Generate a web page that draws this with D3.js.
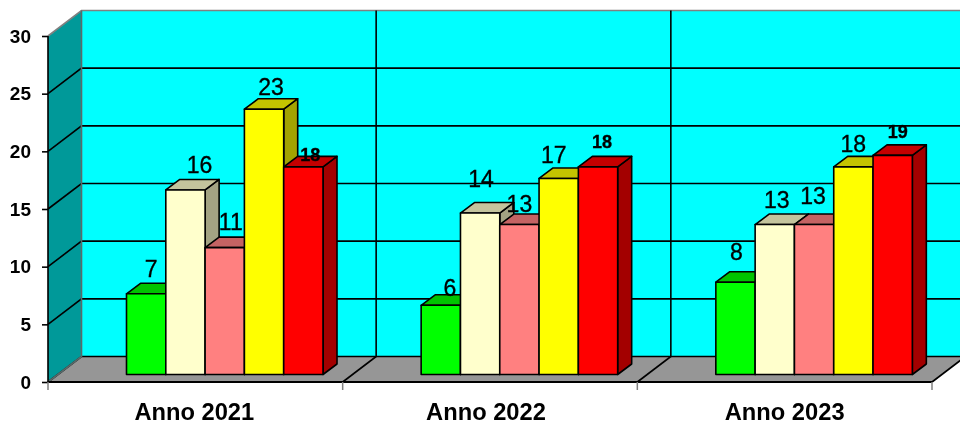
<!DOCTYPE html>
<html>
<head>
<meta charset="utf-8">
<script src="https://cdn.jsdelivr.net/npm/d3@7"></script>
<style>
    html, body { margin: 0; padding: 0; background: #fff; overflow: hidden; }
    svg { display: block; }
    text { font-family: "Liberation Sans", Arial, sans-serif; fill: #000; }
</style>
</head>
<body>
<div id="chart"></div>
<script>
// Datos
const anni = ["Anno 2021", "Anno 2022", "Anno 2023"];
const serie = ["s1", "s2", "s3", "s4", "s5"];
const coloriSerie = ["#00ff00", "#ffffcc", "#ff8080", "#ffff00", "#ff0000"];
const valori2021 = [7, 16, 11, 23, 18];
const valori2022 = [6, 14, 13, 17, 18];
const valori2023 = [8, 13, 13, 18, 19];
const valori = [valori2021, valori2022, valori2023];
const tickValori = [0, 5, 10, 15, 20, 25, 30];

// Ritocchi delle etichette [dx, dy, font]
const ritocchi = [
    [[-2, -2, 23], [7, -2, 23], [-1, -3, 23], [0, 0, 23], [0, 9, 18]],
    [[2, 5, 23], [-6, -12, 23], [-7, 2, 23], [-12, -1, 23], [-3, -4, 18]],
    [[-6, -8, 23], [-5, -2, 23], [-8, -6, 23], [-7, 0, 23], [-2, -3, 18]]
];
const ritocchiAnni = [0, -3, 1];

const width = 960, height = 422;
const left = 48, right = 932, top0 = 36, bottom = 382;
const depthX = 33.5, depthY = 25.5;   // profondita pareti
const barDX = 14, barDY = 10.5;       // profondita barre
const insetX = 78.5, floorY = 7.5;    // barre rispetto all'asse

const svg = d3.select("#chart").append("svg")
    .attr("width", width)
    .attr("height", height);

// il riferimento e' leggermente sfocato
svg.append("defs").append("filter")
    .attr("id", "morbido")
    .attr("x", 0).attr("y", 0).attr("width", 1).attr("height", 1)
    .append("feGaussianBlur").attr("stdDeviation", 0.45);

const disegno = svg.append("g").attr("filter", "url(#morbido)");

const y = d3.scaleLinear().domain([0, 30]).range([bottom, top0]);
const x = d3.scaleBand().domain(anni).range([left, right]);
const xBar = d3.scaleBand().domain(serie).range([0, 196.5]);

const bordi = x.domain().map(d => x(d)).concat(right);

// Sfondo
disegno.append("rect").attr("width", width).attr("height", height).attr("fill", "#fff");

// Pareti
disegno.append("rect")
    .attr("x", left + depthX).attr("y", y(30) - depthY)
    .attr("width", right - left).attr("height", bottom - top0)
    .attr("fill", "#00ffff");

disegno.append("path")
    .attr("d", d3.line()([[left, y(30)], [left + depthX, y(30) - depthY], [left + depthX, y(0) - depthY], [left, y(0)]]) + "Z")
    .attr("fill", "#009999");

disegno.append("path")
    .attr("d", d3.line()([[left, y(0)], [left + depthX, y(0) - depthY], [right + depthX, y(0) - depthY], [right, y(0)]]) + "Z")
    .attr("fill", "#969696");

// Griglia
const griglia = disegno.append("g").attr("fill", "none").attr("stroke", "#000").attr("stroke-width", 1.6);

tickValori.forEach(t => {
    griglia.append("path")
        .attr("stroke", t === 30 ? "#808080" : "#000")
        .attr("d", d3.line()([[left, y(t)], [left + depthX, y(t) - depthY], [right + depthX, y(t) - depthY]]));
});

bordi.forEach((b, i) => {
    griglia.append("path")
        .attr("stroke", i === 0 ? "#5a6a6a" : "#000")
        .attr("d", d3.line()([[b, y(0)], [b + depthX, y(0) - depthY], [b + depthX, y(30) - depthY]]));
});

griglia.append("path").attr("d", d3.line()([[left, y(0)], [left, y(30)]]));

// Barre
const barre = disegno.append("g");
const etichette = disegno.append("g").attr("text-anchor", "middle");

anni.forEach((anno, g) => {
    valori[g].forEach((v, i) => {
        const col = d3.rgb(coloriSerie[i]);
        const x0 = x(anno) + insetX + xBar(serie[i]);
        const x1 = x0 + xBar.bandwidth();
        const yTop = y(v) - floorY;
        const yBase = y(0) - floorY;
        const bar = barre.append("g").attr("stroke", "#000").attr("stroke-width", 1.6).attr("stroke-linejoin", "round");

        // lato
        bar.append("path")
            .attr("fill", d3.rgb(col.r * 0.64, col.g * 0.64, col.b * 0.64))
            .attr("d", d3.line()([[x1, yTop], [x1 + barDX, yTop - barDY], [x1 + barDX, yBase - barDY], [x1, yBase]]) + "Z");
        // tetto
        bar.append("path")
            .attr("fill", d3.rgb(col.r * 0.77, col.g * 0.77, col.b * 0.77))
            .attr("d", d3.line()([[x0, yTop], [x0 + barDX, yTop - barDY], [x1 + barDX, yTop - barDY], [x1, yTop]]) + "Z");
        // fronte
        bar.append("rect")
            .attr("x", x0).attr("y", yTop)
            .attr("width", xBar.bandwidth()).attr("height", yBase - yTop)
            .attr("fill", coloriSerie[i]);

        const r = ritocchi[g][i];
        etichette.append("text")
            .attr("x", (x0 + x1) / 2 + barDX / 2 + r[0])
            .attr("y", yTop - barDY - 4 + r[1])
            .attr("font-size", r[2])
            .attr("font-weight", r[2] === 18 ? "bold" : "normal")
            .attr("stroke", "#000")
            .attr("stroke-width", 0.35)
            .text(v);
    });
});

// Assi
const axisY = disegno.append("g")
    .attr("transform", "translate(" + left + ",0)")
    .call(d3.axisLeft(y).tickValues(tickValori).tickSize(6).tickPadding(11));
axisY.select(".domain").remove();
axisY.selectAll("line").attr("stroke", "#000").attr("stroke-width", 1.6);
axisY.selectAll("text").attr("font-size", 19).attr("font-weight", "bold").attr("font-family", null);

disegno.append("path")
    .attr("fill", "none").attr("stroke", "#000").attr("stroke-width", 1.8)
    .attr("d", d3.line()([[left, y(0)], [right, y(0)]]));

disegno.append("g").selectAll("line")
    .data(bordi)
    .enter().append("line")
    .attr("x1", d => d).attr("x2", d => d)
    .attr("y1", y(0)).attr("y2", y(0) + 8)
    .attr("stroke", "#808080").attr("stroke-width", 1.5);

disegno.append("g").selectAll("text")
    .data(anni)
    .enter().append("text")
    .attr("x", (d, i) => x(d) + x.bandwidth() / 2 - 1 + ritocchiAnni[i])
    .attr("y", 419.5)
    .attr("text-anchor", "middle")
    .attr("font-size", 23.7)
    .attr("font-weight", "bold")
    .text(d => d);
</script>
</body>
</html>
